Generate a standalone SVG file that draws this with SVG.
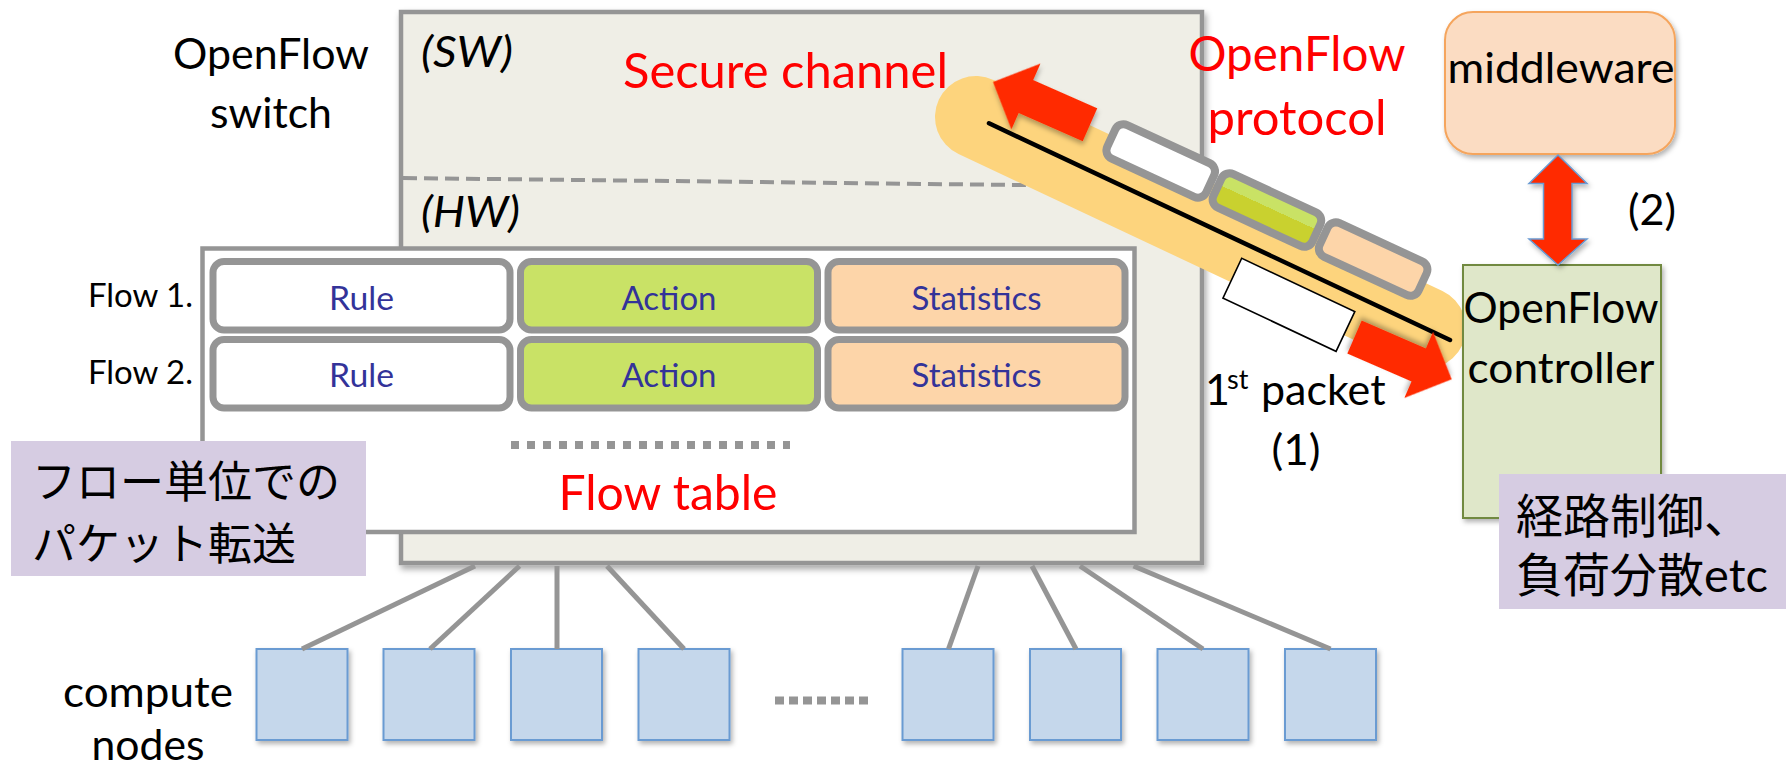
<svg xmlns="http://www.w3.org/2000/svg" width="1786" height="768" viewBox="0 0 1786 768">
<defs>
<style>
text { font-family: Lato, "Liberation Sans", "Noto Sans CJK JP", sans-serif; }
.k { fill:#000; font-size:43px; }
.red { fill:#ff0000; font-size:48px; }
.it { font-style:italic; }
.mid { text-anchor:middle; }
.cell { fill:#333399; font-size:32px; text-anchor:middle; }
.flow { fill:#000; font-size:33px; text-anchor:end; }
.jp { font-family: Lato, "Noto Sans CJK JP", sans-serif; font-size:44px; fill:#000; }
.jp2 { font-family: Lato, "Noto Sans CJK JP", sans-serif; font-size:47px; fill:#000; }
.cellbox { stroke:#959595; stroke-width:7; }
.node { fill:#c5d7eb; stroke:#6a9bd2; stroke-width:2; }
.link { stroke:#959595; stroke-width:5; }
.pkt { stroke:#959595; stroke-width:8; }
.note { fill:#d6cce2; }
.bigarrow { fill:#ff2b00; }
</style>
<filter id="shadow" x="-10%" y="-10%" width="125%" height="130%">
  <feDropShadow dx="2" dy="4" stdDeviation="3" flood-color="#000" flood-opacity="0.35"/>
</filter>
<filter id="softShadow" x="-20%" y="-20%" width="150%" height="150%">
  <feDropShadow dx="2" dy="3" stdDeviation="2.5" flood-color="#000" flood-opacity="0.3"/>
</filter>
<linearGradient id="twoTone" x1="0" y1="0" x2="0" y2="1">
  <stop offset="0.42" stop-color="#c9e265"/>
  <stop offset="0.42" stop-color="#c9d12f"/>
</linearGradient>
<!-- block arrow, tip at origin, pointing along -x -->
<polygon id="fatArrow" points="0,0 36,-36 36,-18 106,-18 106,18 36,18 36,36"/>
</defs>

<rect width="1786" height="768" fill="#fff"/>

<!-- OpenFlow switch -->
<g id="switch">
  <rect x="401" y="12" width="801" height="551" fill="#efeee6" stroke="#959595" stroke-width="4.5" filter="url(#shadow)"/>
  <line x1="403" y1="178" x2="1150" y2="186.5" stroke="#959595" stroke-width="4" stroke-dasharray="14 7"/>
  <text class="k it" x="421" y="67" textLength="92" lengthAdjust="spacingAndGlyphs">(SW)</text>
  <text class="k it" x="421" y="227" textLength="99" lengthAdjust="spacingAndGlyphs">(HW)</text>
  <text class="red" x="623" y="88" textLength="325" lengthAdjust="spacingAndGlyphs">Secure channel</text>
</g>
<g id="switch-label">
  <text class="k mid" x="271" y="69" textLength="196" lengthAdjust="spacingAndGlyphs">OpenFlow</text>
  <text class="k mid" x="271" y="128" textLength="122" lengthAdjust="spacingAndGlyphs">switch</text>
</g>

<!-- flow table -->
<g id="flow-table">
  <rect x="202.5" y="248.5" width="932" height="283.5" fill="#fff" stroke="#959595" stroke-width="4.5"/>
  <rect class="cellbox" x="213" y="261.5" width="297" height="68.5" rx="11" fill="#fff"/>
  <rect class="cellbox" x="520.5" y="261.5" width="297" height="68.5" rx="11" fill="#c9e266"/>
  <rect class="cellbox" x="828" y="261.5" width="297" height="68.5" rx="11" fill="#fdd5a9"/>
  <rect class="cellbox" x="213" y="339.5" width="297" height="68.5" rx="11" fill="#fff"/>
  <rect class="cellbox" x="520.5" y="339.5" width="297" height="68.5" rx="11" fill="#c9e266"/>
  <rect class="cellbox" x="828" y="339.5" width="297" height="68.5" rx="11" fill="#fdd5a9"/>
  <text class="cell" x="361.5" y="310" textLength="65" lengthAdjust="spacingAndGlyphs">Rule</text>
  <text class="cell" x="669" y="310" textLength="95" lengthAdjust="spacingAndGlyphs">Action</text>
  <text class="cell" x="976.5" y="310" textLength="130" lengthAdjust="spacingAndGlyphs">Statistics</text>
  <text class="cell" x="361.5" y="387" textLength="65" lengthAdjust="spacingAndGlyphs">Rule</text>
  <text class="cell" x="669" y="387" textLength="95" lengthAdjust="spacingAndGlyphs">Action</text>
  <text class="cell" x="976.5" y="387" textLength="130" lengthAdjust="spacingAndGlyphs">Statistics</text>
  <line x1="511" y1="445" x2="790" y2="445" stroke="#959595" stroke-width="8" stroke-dasharray="8 8"/>
  <text class="red mid" x="668" y="510" textLength="219" lengthAdjust="spacingAndGlyphs">Flow table</text>
</g>
<g id="flow-labels">
  <text class="flow" x="193" y="307" textLength="105" lengthAdjust="spacingAndGlyphs">Flow 1.</text>
  <text class="flow" x="193" y="384" textLength="105" lengthAdjust="spacingAndGlyphs">Flow 2.</text>
</g>

<!-- note: per-flow forwarding -->
<g id="note-forwarding">
  <rect class="note" x="11" y="441" width="355" height="135"/>
  <text class="jp" x="32" y="498">フロー単位での</text>
  <text class="jp" x="32" y="560">パケット転送</text>
</g>

<!-- secure channel band with messages -->
<g id="secure-channel">
  <line x1="976" y1="117" x2="1425" y2="328" stroke="#fdd47d" stroke-width="82" stroke-linecap="round"/>
  <line x1="989" y1="123.3" x2="1450" y2="340" stroke="#000" stroke-width="4.5" stroke-linecap="round"/>
  <g transform="translate(1119 121.3) rotate(24.8)">
    <rect class="pkt" x="0" y="0" width="109" height="37" rx="9" fill="#fff"/>
    <rect class="pkt" x="117" y="0" width="109" height="37" rx="9" fill="url(#twoTone)"/>
    <rect class="pkt" x="234" y="0" width="109" height="37" rx="9" fill="#fdd5a9"/>
  </g>
  <rect x="0" y="0" width="125" height="44" fill="#fff" stroke="#000" stroke-width="1.6" transform="translate(1241.7 258.3) rotate(25.2)"/>
</g>

<!-- compute nodes -->
<g id="compute-nodes" filter="url(#softShadow)">
  <rect class="node" x="256.5" y="649" width="91" height="91"/>
  <rect class="node" x="383.5" y="649" width="91" height="91"/>
  <rect class="node" x="511" y="649" width="91" height="91"/>
  <rect class="node" x="638.5" y="649" width="91" height="91"/>
  <rect class="node" x="902.5" y="649" width="91" height="91"/>
  <rect class="node" x="1030" y="649" width="91" height="91"/>
  <rect class="node" x="1157.5" y="649" width="91" height="91"/>
  <rect class="node" x="1285" y="649" width="91" height="91"/>
</g>
<g id="compute-label">
  <text class="k mid" x="148" y="707" textLength="170" lengthAdjust="spacingAndGlyphs">compute</text>
  <text class="k mid" x="148" y="760" textLength="113" lengthAdjust="spacingAndGlyphs">nodes</text>
  <line x1="775" y1="700.5" x2="871" y2="700.5" stroke="#959595" stroke-width="8" stroke-dasharray="9 5"/>
</g>

<!-- middleware -->
<g id="middleware">
  <rect x="1445" y="12" width="230" height="142" rx="28" fill="#fbdcc2" stroke="#f5a55d" stroke-width="2" filter="url(#softShadow)"/>
  <text class="k mid" x="1561" y="83" textLength="227" lengthAdjust="spacingAndGlyphs">middleware</text>
</g>

<!-- OpenFlow controller -->
<g id="controller">
  <rect x="1463" y="265" width="198" height="253" fill="#dfe7c9" stroke="#71893f" stroke-width="2" filter="url(#softShadow)"/>
  <text class="k mid" x="1561" y="323" textLength="195" lengthAdjust="spacingAndGlyphs">OpenFlow</text>
  <text class="k mid" x="1561" y="383" textLength="187" lengthAdjust="spacingAndGlyphs">controller</text>
</g>

<!-- note: routing, load balancing -->
<g id="note-control">
  <rect class="note" x="1499" y="474" width="287" height="135"/>
  <text class="jp2" x="1516" y="533">経路制御、</text>
  <text class="jp2" x="1516" y="592">負荷分散etc</text>
</g>

<!-- connectors -->
<g id="connectors">
  <g id="links">
    <line class="link" x1="475" y1="566" x2="302" y2="649"/>
    <line class="link" x1="519.5" y1="566" x2="430" y2="649"/>
    <line class="link" x1="557" y1="566" x2="557" y2="649"/>
    <line class="link" x1="607" y1="566" x2="684" y2="649"/>
    <line class="link" x1="978" y1="566" x2="948.5" y2="649"/>
    <line class="link" x1="1032" y1="566" x2="1076" y2="649"/>
    <line class="link" x1="1080" y1="566" x2="1203" y2="649"/>
    <line class="link" x1="1133.5" y1="566" x2="1330.5" y2="649"/>
  </g>
  <use href="#fatArrow" class="bigarrow" transform="translate(993 82) rotate(23.8)" filter="url(#softShadow)"/>
  <use href="#fatArrow" class="bigarrow" transform="translate(1451.7 379.3) rotate(203.5)" filter="url(#softShadow)"/>
  <polygon points="1558,155 1587,183.5 1572,183.5 1572,239 1587,239 1558,265 1529,239 1543.5,239 1543.5,183.5 1529,183.5" fill="#ff2b00" stroke="#6a9bd2" stroke-width="1.5" filter="url(#softShadow)"/>
</g>

<!-- protocol and step labels -->
<g id="labels">
  <text class="red mid" x="1297" y="71" textLength="217" lengthAdjust="spacingAndGlyphs">OpenFlow</text>
  <text class="red mid" x="1297" y="135" textLength="179" lengthAdjust="spacingAndGlyphs">protocol</text>
  <text class="k" x="1628" y="225" textLength="48" lengthAdjust="spacingAndGlyphs">(2)</text>
  <text class="k"><tspan x="1205" y="405">1</tspan><tspan x="1227" y="389" font-size="27">st</tspan><tspan x="1261" y="405">packet</tspan></text>
  <text class="k mid" x="1296" y="465" textLength="49" lengthAdjust="spacingAndGlyphs">(1)</text>
</g>
</svg>
